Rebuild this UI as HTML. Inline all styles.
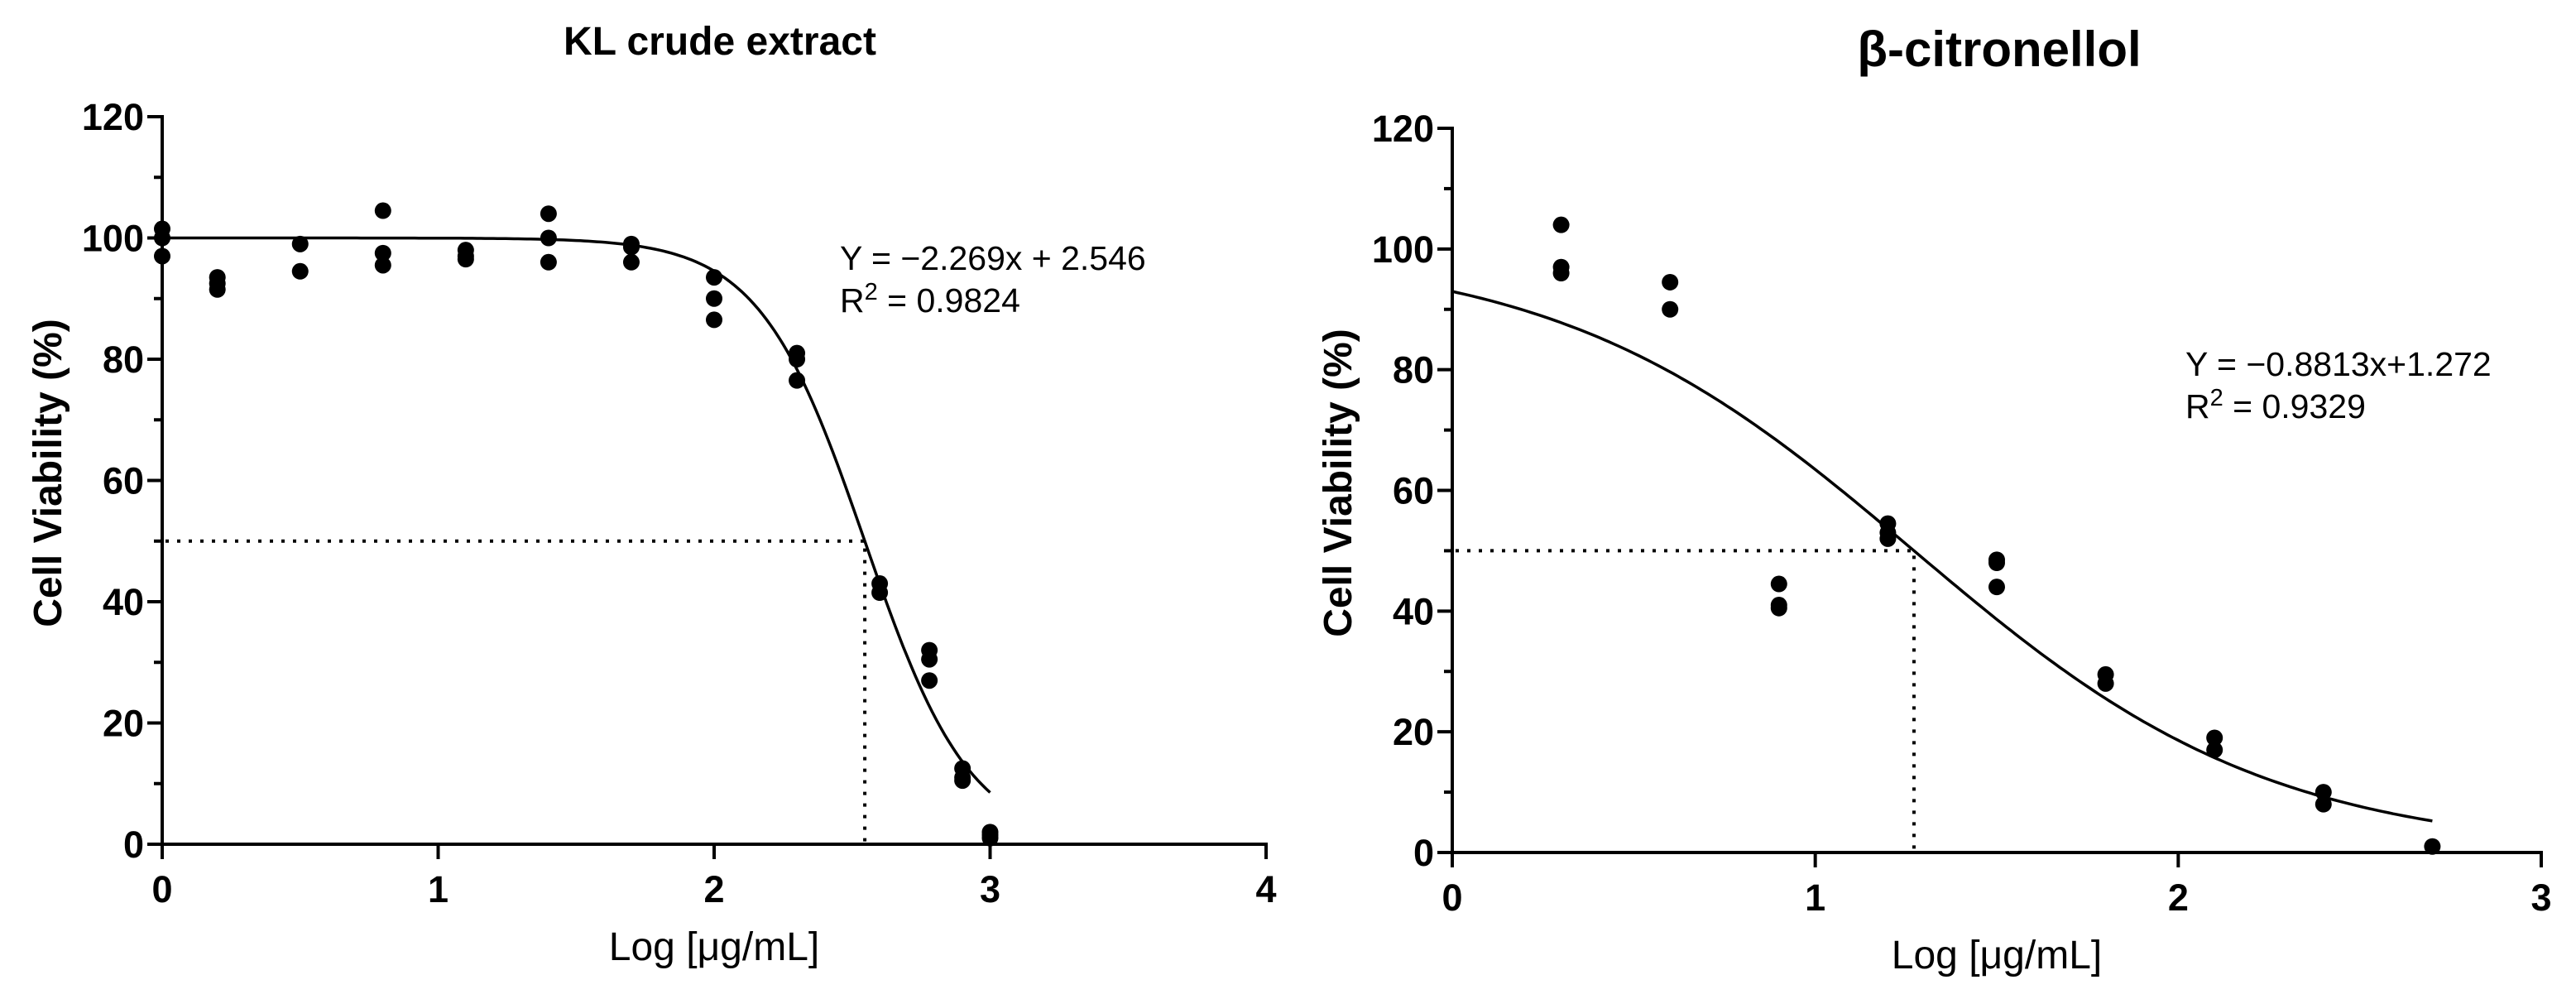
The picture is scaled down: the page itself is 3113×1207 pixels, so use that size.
<!DOCTYPE html>
<html><head><meta charset="utf-8"><style>
html,body{margin:0;padding:0;background:#fff;}
svg{display:block;font-family:"Liberation Sans",Arial,sans-serif;}
</style></head><body>
<svg id="chart" width="3113" height="1207" viewBox="0 0 3113 1207" xmlns="http://www.w3.org/2000/svg"></svg>
<script>
// Left panel data
const klX = [0,0,0,0.2,0.2,0.2,0.5,0.5,0.8,0.8,0.8,1.1,1.1,1.1,1.4,1.4,1.4,1.7,1.7,1.7,2.0,2.0,2.0,2.3,2.3,2.3,2.6,2.6,2.78,2.78,2.78,2.9,2.9,2.9,3.0,3.0,3.0];
const klY = [101.5,100,97,93.5,92.5,91.5,99,94.5,104.5,97.5,95.5,98,97,96.5,104,100,96,99,98.5,96,93.5,90,86.5,81,80,76.5,43,41.5,32,30.5,27,12.5,11,10.5,2,1.5,1];
const klLogIC50 = 2.546;
const klHill = 2.269;
const klXTicks = [0,1,2,3,4];
// Right panel data
const ciX = [0.3,0.3,0.3,0.6,0.6,0.9,0.9,0.9,1.2,1.2,1.2,1.5,1.5,1.5,1.8,1.8,2.1,2.1,2.4,2.4,2.7];
const ciY = [104,97,96,94.5,90,44.5,41,40.5,54.5,53,52,48.5,48,44,29.5,28,19,17,10,8,1];
const ciLogIC50 = 1.272;
const ciHill = 0.8813;
const ciXTicks = [0,1,2,3];
const yTicks = [0,20,40,60,80,100,120];
const yMinor = [10,30,50,70,90,110];

const NS = "http://www.w3.org/2000/svg";
const svg = document.getElementById('chart');
function mk(tag, attrs, parent){
  const e = document.createElementNS(NS, tag);
  for (const k in attrs) e.setAttribute(k, attrs[k]);
  (parent||svg).appendChild(e);
  return e;
}

function panel(o){
  const g = mk('g', {});
  
  
  const sx = v => o.x0 + (v - o.xmin) / (o.xmax - o.xmin) * (o.x1 - o.x0);
  const sy = v => o.y0 - v / 120 * (o.y0 - o.y1);
  const t = mk('text', {x:o.titleX, y:o.titleY, 'text-anchor':'middle', 'font-size':o.titleSize, 'font-weight':'bold'}, g);
  t.textContent = o.title;
  
  
  const ya = mk('line', {x1:o.x0, y1:o.y0+18, x2:o.x0, y2:sy(120)-2, stroke:'#000','stroke-width':4}, g);
  
  
  const xa = mk('line', {x1:o.x0-18, y1:o.y0, x2:o.x1+2, y2:o.y0, stroke:'#000','stroke-width':4}, g);
  
  
  yTicks.forEach(v=>{
    mk('line',{x1:o.x0-18,y1:sy(v),x2:o.x0,y2:sy(v),stroke:'#000','stroke-width':4},g);
    const tl = mk('text',{x:o.x0-22,y:sy(v)+16,'text-anchor':'end','font-size':45,'font-weight':'bold'},g);
    tl.textContent = v;
    
    
  });
  yMinor.forEach(v=>{
    mk('line',{x1:o.x0-10,y1:sy(v),x2:o.x0,y2:sy(v),stroke:'#000','stroke-width':4},g);
  });
  o.xTicks.forEach(v=>{
    mk('line',{x1:sx(v),y1:o.y0,x2:sx(v),y2:o.y0+18,stroke:'#000','stroke-width':4},g);
    const tl = mk('text',{x:sx(v),y:o.y0+70,'text-anchor':'middle','font-size':45,'font-weight':'bold'},g);
    tl.textContent = v;
    
    
  });
  const xt = mk('text',{x:(o.x0+o.x1)/2,y:o.y0+140,'text-anchor':'middle','font-size':48},g);
  xt.textContent = 'Log [\u03bcg/mL]';
  
  
  const yc = (o.y0+o.y1)/2 - 9;
  const yt = mk('text',{x:0,y:0,'text-anchor':'middle','font-size':48,'font-weight':'bold',transform:`translate(${o.x0-122},${yc}) rotate(-90)`},g);
  yt.textContent = 'Cell Viability (%)';
  
  
  const d1 = mk('path',{d:`M${o.x0+4},${sy(50)} H${sx(o.ic50)} V${o.y0}`,fill:'none',stroke:'#000','stroke-width':4,'stroke-dasharray':'4 10'},g);
  
  
  let p = '';
  for (let i=0;i<=200;i++){
    const xv = o.cMin + (o.cMax-o.cMin)*i/200;
    const yv = 100/(1+Math.pow(10,(xv-o.ic50)*o.hill));
    p += (i?'L':'M') + sx(xv).toFixed(1) + ',' + sy(yv).toFixed(1);
  }
  const c = mk('path',{d:p,fill:'none',stroke:'#000','stroke-width':3.5},g);
  
  
  o.xs.forEach((xv,i)=>{
    const pt = mk('circle',{cx:sx(xv),cy:sy(o.ys[i]),r:10,fill:'#000'},g);
    
    
  });
  const a1 = mk('text',{x:o.annX,y:o.annY,'font-size':41},g);
  a1.textContent = o.eq;
  
  
  const a2 = mk('text',{x:o.annX,y:o.annY+51,'font-size':41},g);
  a2.innerHTML = 'R<tspan dy="-15" font-size="29">2</tspan><tspan dy="15"> = '+o.r2+'</tspan>';
  
  
}

panel({name:'kl-crude-extract-panel', title:'KL crude extract', titleX:870, titleY:66, titleSize:48,
  x0:196, x1:1530, y0:1020, y1:141, xmin:0, xmax:4, xTicks:klXTicks,
  xs:klX, ys:klY, ic50:klLogIC50, hill:klHill, cMin:0, cMax:3,
  annX:1015, annY:326, eq:'Y = \u22122.269x + 2.546', r2:'0.9824'});
panel({name:'beta-citronellol-panel', title:'\u03b2-citronellol', titleX:2416, titleY:80, titleSize:60,
  x0:1755, x1:3071, y0:1030, y1:155, xmin:0, xmax:3, xTicks:ciXTicks,
  xs:ciX, ys:ciY, ic50:ciLogIC50, hill:ciHill, cMin:0, cMax:2.7,
  annX:2641, annY:454, eq:'Y = \u22120.8813x+1.272', r2:'0.9329'});
</script>
</body></html>
